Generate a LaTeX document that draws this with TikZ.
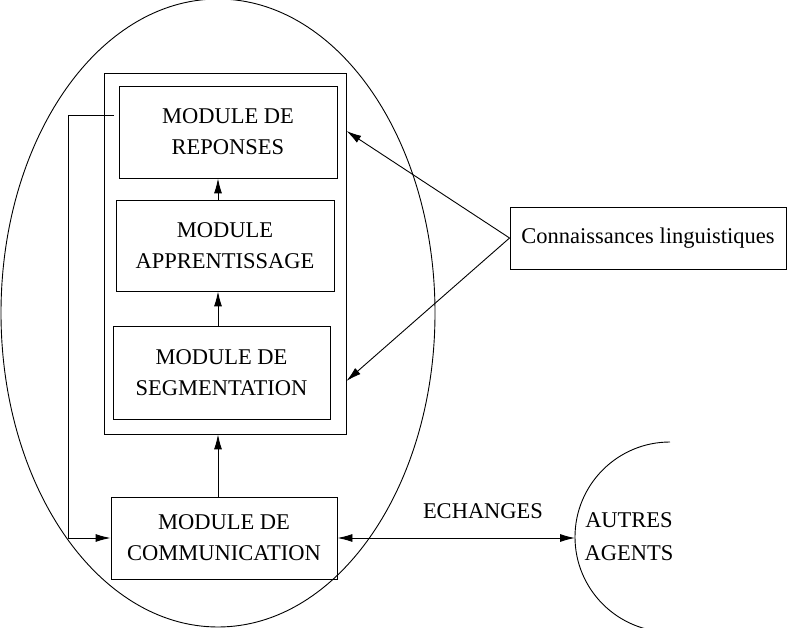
\documentclass[tikz,border=0pt]{standalone}
\usepackage{fontspec}
\setmainfont{Liberation Serif}
\usetikzlibrary{arrows.meta}
\begin{document}
\begin{tikzpicture}[x=1pt,y=-1pt,line width=0.9pt,
  box/.style={draw,rectangle,inner sep=0pt,align=center,font=\fontsize{22.5}{31}\selectfont},
  arr/.style={-{Latex[length=15pt,width=8pt]}},
  lbl/.style={inner sep=0pt,align=center,font=\fontsize{22.5}{33}\selectfont}]
\useasboundingbox (0,0) rectangle (788,628);
\clip (0,0) rectangle (788,628);
% ellipse (agent)
\draw (218,313) ellipse [x radius=217pt, y radius=314pt];
% outer rectangle
\node[box,minimum width=242pt,minimum height=361pt] (outer) at (225,253.5) {};
\node[box,minimum width=218pt,minimum height=92pt] (rep) at (228,132) {MODULE DE\\REPONSES};
\node[box,minimum width=218pt,minimum height=91pt] (appr) at (225,245.5) {MODULE\\APPRENTISSAGE};
\node[box,minimum width=217pt,minimum height=93pt] (seg) at (221.5,372.5) {MODULE DE\\SEGMENTATION};
\node[box,minimum width=226pt,minimum height=82pt] (comm) at (224,538) {MODULE DE\\COMMUNICATION};
\node[box,minimum width=276pt,minimum height=62pt] (conn) at (648,238) {Connaissances linguistiques};
\coordinate (axis) at (218,0);
\draw[arr] (appr.north -| axis) -- (rep.south -| axis);
\draw[arr] (seg.north -| axis) -- (appr.south -| axis);
\draw[arr] (comm.north -| axis) -- (outer.south -| axis);
% links to linguistic knowledge
\coordinate (ktop) at (0,131);
\coordinate (kbot) at (0,381);
\draw[arr] (conn.west) -- (outer.east |- ktop);
\draw[arr] (conn.west) -- (outer.east |- kbot);
% left feedback line
\coordinate (lstart) at (114,115);
\coordinate (lcorner) at (68,115);
\draw[arr] (lstart) -- (lcorner) -- (lcorner |- comm.west) -- (comm.west);
% other agents
\draw (670,442) arc[start angle=90,end angle=270,radius=95pt];
\coordinate (agw) at (575,537);
\node[lbl] (agents) at (629,537) {AUTRES\\AGENTS};
\draw[{Latex[length=15pt,width=8pt]}-{Latex[length=15pt,width=8pt]}] (comm.east) -- (comm.east -| agw);
\node[lbl] (ech) at (483,511) {ECHANGES};
\end{tikzpicture}
\end{document}
